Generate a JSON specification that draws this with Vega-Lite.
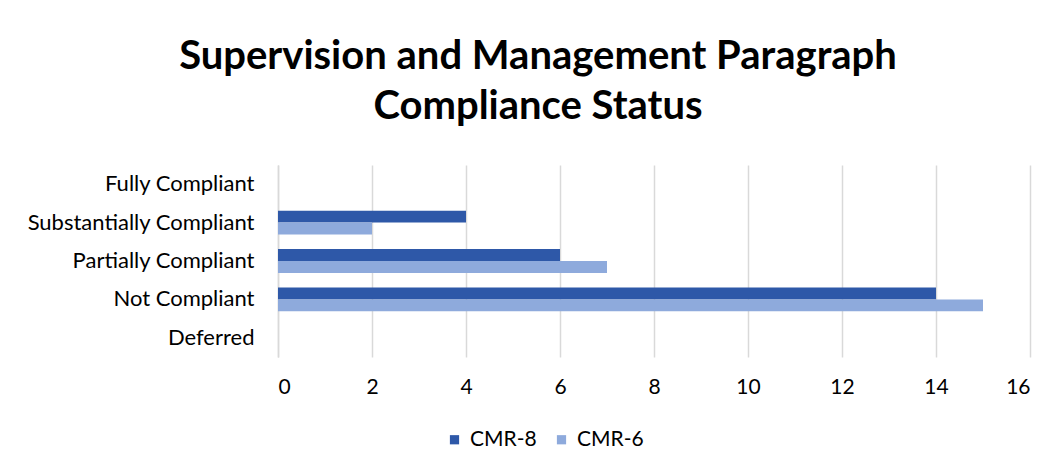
{
  "$schema": "https://vega.github.io/schema/vega-lite/v6.json",
  "width": 752,
  "height": 192,
  "autosize": {"type": "none"},
  "padding": {"left": 278, "top": 165, "right": 28, "bottom": 117},
  "background": "white",
  "title": {
    "text": ["Supervision and Management Paragraph", "Compliance Status"],
    "font": "Lato",
    "fontSize": 40,
    "fontWeight": "bold",
    "color": "#000000",
    "anchor": "middle",
    "dx": -116,
    "lineHeight": 50,
    "offset": 38
  },
  "data": {
    "values": [
      {"status": "Fully Compliant", "series": "CMR-8", "count": 0},
      {"status": "Fully Compliant", "series": "CMR-6", "count": 0},
      {"status": "Substantially Compliant", "series": "CMR-8", "count": 4},
      {"status": "Substantially Compliant", "series": "CMR-6", "count": 2},
      {"status": "Partially Compliant", "series": "CMR-8", "count": 6},
      {"status": "Partially Compliant", "series": "CMR-6", "count": 7},
      {"status": "Not Compliant", "series": "CMR-8", "count": 14},
      {"status": "Not Compliant", "series": "CMR-6", "count": 15},
      {"status": "Deferred", "series": "CMR-8", "count": 0},
      {"status": "Deferred", "series": "CMR-6", "count": 0}
    ]
  },
  "mark": {"type": "bar"},
  "encoding": {
    "y": {
      "field": "status",
      "type": "nominal",
      "sort": ["Fully Compliant", "Substantially Compliant", "Partially Compliant", "Not Compliant", "Deferred"],
      "scale": {"paddingInner": 0.377, "paddingOuter": 0.19},
      "axis": {
        "title": null,
        "ticks": false,
        "domain": true,
        "domainColor": "#d9d9d9",
        "domainWidth": 1.5,
        "labelFont": "Lato",
        "labelFontSize": 22,
        "labelColor": "#000000",
        "labelPadding": 24,
        "labelLimit": 400,
        "grid": false
      }
    },
    "x": {
      "field": "count",
      "type": "quantitative",
      "scale": {"domain": [0, 16], "nice": false},
      "axis": {
        "title": null,
        "values": [0, 2, 4, 6, 8, 10, 12, 14, 16],
        "ticks": false,
        "domain": false,
        "grid": true,
        "gridColor": "#d9d9d9",
        "gridWidth": 1.5,
        "labelFont": "Lato",
        "labelFontSize": 21,
        "labelColor": "#000000",
        "labelPadding": 19
      }
    },
    "yOffset": {"field": "series", "type": "nominal", "sort": ["CMR-8", "CMR-6"]},
    "color": {
      "field": "series",
      "type": "nominal",
      "sort": ["CMR-8", "CMR-6"],
      "scale": {"domain": ["CMR-8", "CMR-6"], "range": ["#2E58A8", "#8EAADC"]},
      "legend": {
        "title": null,
        "orient": "none",
        "direction": "horizontal",
        "legendX": 166,
        "legendY": 264,
        "symbolType": "square",
        "symbolSize": 85,
        "symbolStrokeWidth": 0,
        "symbolOpacity": 1,
        "labelFont": "Lato",
        "labelFontSize": 21,
        "labelColor": "#000000",
        "labelOffset": 5,
        "columnPadding": 14
      }
    }
  },
  "config": {"view": {"stroke": null}}
}
